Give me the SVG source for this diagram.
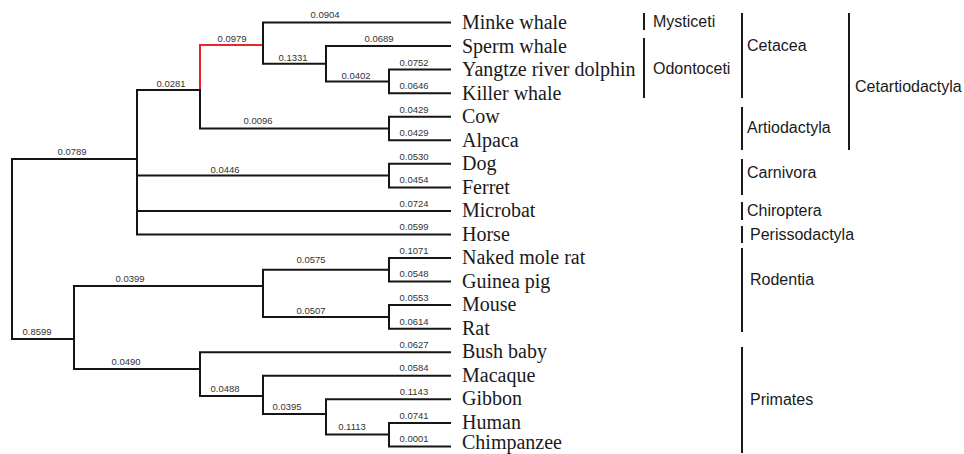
<svg xmlns="http://www.w3.org/2000/svg" width="964" height="454" viewBox="0 0 964 454">
<style>
.e{fill:none;stroke:#151515;stroke-width:2;stroke-linecap:square}
.red{stroke:#e8262a}
.bl{font-family:"Liberation Sans",Arial,sans-serif;font-size:9.5px;fill:#333;text-anchor:middle}
.lf{font-family:"Liberation Serif","Times New Roman",serif;font-size:20px;fill:#1a1a1a}
.cl{font-family:"Liberation Sans",Arial,sans-serif;font-size:16px;fill:#1a1a1a}
.bar{stroke:#1a1a1a;stroke-width:2}
</style>
<rect width="964" height="454" fill="#fff"/>
<g id="connectors">
<path class="e" d="M12 249 V159 H137"/>
<path class="e" d="M12 249 V339 H74"/>
<path class="e" d="M137 159 V90 H200"/>
<path class="e" d="M137 159 V175.6 H389"/>
<path class="e" d="M137 159 V210.9 H450"/>
<path class="e" d="M137 159 V234.5 H450"/>
<path class="e red" d="M200 90 V45 H263"/>
<path class="e" d="M200 90 V128.5 H389"/>
<path class="e" d="M263 45 V22.5 H450"/>
<path class="e" d="M263 45 V63.7 H326"/>
<path class="e" d="M326 63.7 V46 H450"/>
<path class="e" d="M326 63.7 V81.4 H389"/>
<path class="e" d="M389 81.4 V69.6 H450"/>
<path class="e" d="M389 81.4 V93.2 H450"/>
<path class="e" d="M389 128.5 V116.7 H450"/>
<path class="e" d="M389 128.5 V140.3 H450"/>
<path class="e" d="M389 175.6 V163.8 H450"/>
<path class="e" d="M389 175.6 V187.4 H450"/>
<path class="e" d="M74 339 V286 H263"/>
<path class="e" d="M74 339 V369 H200"/>
<path class="e" d="M263 286 V269.8 H389"/>
<path class="e" d="M263 286 V316.9 H389"/>
<path class="e" d="M389 269.8 V258 H450"/>
<path class="e" d="M389 269.8 V281.6 H450"/>
<path class="e" d="M389 316.9 V305.1 H450"/>
<path class="e" d="M389 316.9 V328.7 H450"/>
<path class="e" d="M200 369 V352.2 H450"/>
<path class="e" d="M200 369 V396 H263"/>
<path class="e" d="M263 396 V375.8 H450"/>
<path class="e" d="M263 396 V414 H326"/>
<path class="e" d="M326 414 V399.3 H450"/>
<path class="e" d="M326 414 V434.6 H389"/>
<path class="e" d="M389 434.6 V422.9 H450"/>
<path class="e" d="M389 434.6 V446.4 H450"/>
</g>
<g id="branch-labels">
<text class="bl" x="72" y="155">0.0789</text>
<text class="bl" x="37" y="335">0.8599</text>
<text class="bl" x="171" y="87">0.0281</text>
<text class="bl" x="225" y="173">0.0446</text>
<text class="bl" x="232" y="42">0.0979</text>
<text class="bl" x="258" y="124">0.0096</text>
<text class="bl" x="325" y="18">0.0904</text>
<text class="bl" x="293" y="61">0.1331</text>
<text class="bl" x="379" y="42">0.0689</text>
<text class="bl" x="356" y="79">0.0402</text>
<text class="bl" x="414" y="66">0.0752</text>
<text class="bl" x="414" y="89">0.0646</text>
<text class="bl" x="414" y="113">0.0429</text>
<text class="bl" x="414" y="136">0.0429</text>
<text class="bl" x="414" y="160">0.0530</text>
<text class="bl" x="414" y="183">0.0454</text>
<text class="bl" x="414" y="207">0.0724</text>
<text class="bl" x="414" y="230">0.0599</text>
<text class="bl" x="130" y="282">0.0399</text>
<text class="bl" x="311" y="263">0.0575</text>
<text class="bl" x="311" y="314">0.0507</text>
<text class="bl" x="414" y="254">0.1071</text>
<text class="bl" x="414" y="277">0.0548</text>
<text class="bl" x="414" y="301">0.0553</text>
<text class="bl" x="414" y="325">0.0614</text>
<text class="bl" x="126" y="365">0.0490</text>
<text class="bl" x="225" y="392">0.0488</text>
<text class="bl" x="287" y="410">0.0395</text>
<text class="bl" x="352" y="430">0.1113</text>
<text class="bl" x="414" y="348">0.0627</text>
<text class="bl" x="414" y="371">0.0584</text>
<text class="bl" x="414" y="395">0.1143</text>
<text class="bl" x="414" y="419">0.0741</text>
<text class="bl" x="414" y="442">0.0001</text>
</g>
<g id="leaf-minke"><text class="lf" x="462" y="29">Minke whale</text></g>
<g id="leaf-sperm"><text class="lf" x="462" y="52.5">Sperm whale</text></g>
<g id="leaf-yangtze"><text class="lf" x="462" y="76">Yangtze river dolphin</text></g>
<g id="leaf-killer"><text class="lf" x="462" y="99.5">Killer whale</text></g>
<g id="leaf-cow"><text class="lf" x="462" y="123">Cow</text></g>
<g id="leaf-alpaca"><text class="lf" x="462" y="146.5">Alpaca</text></g>
<g id="leaf-dog"><text class="lf" x="462" y="170">Dog</text></g>
<g id="leaf-ferret"><text class="lf" x="462" y="193.5">Ferret</text></g>
<g id="leaf-microbat"><text class="lf" x="462" y="217">Microbat</text></g>
<g id="leaf-horse"><text class="lf" x="462" y="240.5">Horse</text></g>
<g id="leaf-nmr"><text class="lf" x="462" y="264">Naked mole rat</text></g>
<g id="leaf-guinea"><text class="lf" x="462" y="287.5">Guinea pig</text></g>
<g id="leaf-mouse"><text class="lf" x="462" y="311">Mouse</text></g>
<g id="leaf-rat"><text class="lf" x="462" y="334.5">Rat</text></g>
<g id="leaf-bushbaby"><text class="lf" x="462" y="358">Bush baby</text></g>
<g id="leaf-macaque"><text class="lf" x="462" y="381.5">Macaque</text></g>
<g id="leaf-gibbon"><text class="lf" x="462" y="405">Gibbon</text></g>
<g id="leaf-human"><text class="lf" x="462" y="428.5">Human</text></g>
<g id="leaf-chimp"><text class="lf" x="462" y="449">Chimpanzee</text></g>
<g id="clade-mysticeti"><line class="bar" x1="644" y1="13" x2="644" y2="30"/><text class="cl" x="653" y="27">Mysticeti</text></g>
<g id="clade-odontoceti"><line class="bar" x1="644" y1="38" x2="644" y2="98"/><text class="cl" x="653" y="74">Odontoceti</text></g>
<g id="clade-cetacea"><line class="bar" x1="742" y1="13" x2="742" y2="98"/><text class="cl" x="747" y="51">Cetacea</text></g>
<g id="clade-artiodactyla"><line class="bar" x1="742" y1="107" x2="742" y2="150"/><text class="cl" x="747" y="133">Artiodactyla</text></g>
<g id="clade-cetartiodactyla"><line class="bar" x1="849" y1="13" x2="849" y2="150"/><text class="cl" x="855" y="92">Cetartiodactyla</text></g>
<g id="clade-carnivora"><line class="bar" x1="742" y1="159" x2="742" y2="195"/><text class="cl" x="747" y="178">Carnivora</text></g>
<g id="clade-chiroptera"><line class="bar" x1="742" y1="202" x2="742" y2="220"/><text class="cl" x="747" y="216">Chiroptera</text></g>
<g id="clade-perissodactyla"><line class="bar" x1="742" y1="226" x2="742" y2="243"/><text class="cl" x="750" y="240">Perissodactyla</text></g>
<g id="clade-rodentia"><line class="bar" x1="742" y1="248" x2="742" y2="332"/><text class="cl" x="750" y="285">Rodentia</text></g>
<g id="clade-primates"><line class="bar" x1="742" y1="347" x2="742" y2="453"/><text class="cl" x="750" y="405">Primates</text></g>
</svg>
